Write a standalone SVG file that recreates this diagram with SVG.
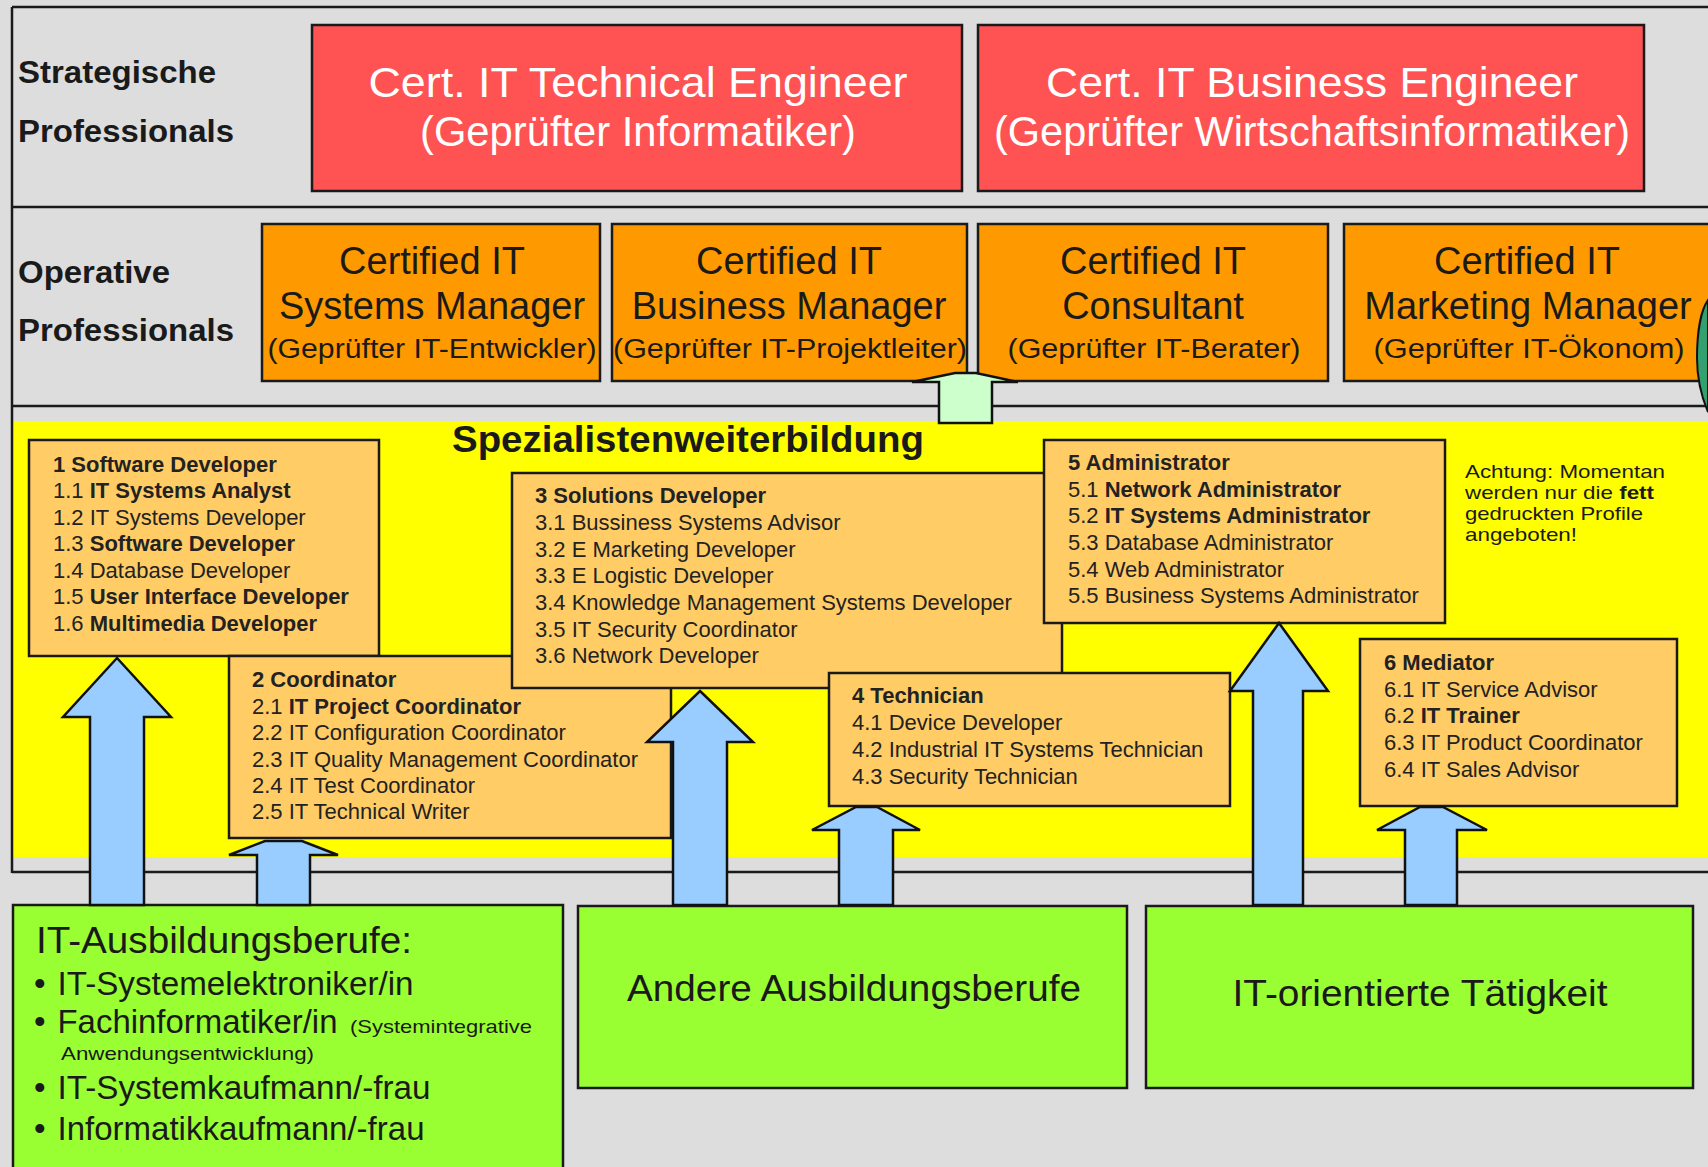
<svg xmlns="http://www.w3.org/2000/svg" width="1708" height="1167" viewBox="0 0 1708 1167">
<style>
text{font-family:"Liberation Sans",Arial,Helvetica,sans-serif;}
.band{font-size:32px;font-weight:bold;fill:#1a1a1a;}
.red{fill:#ff5353;stroke:#1a1a1a;stroke-width:2.5;}
.redt{font-size:42px;fill:#ffffff;text-anchor:middle;}
.op{fill:#ff9900;stroke:#1a1a1a;stroke-width:2.5;}
.opt{font-size:38px;fill:#1a1a1a;text-anchor:middle;}
.ops{font-size:27px;fill:#1a1a1a;text-anchor:middle;}
.sp{fill:#ffcc66;stroke:#1a1a1a;stroke-width:2.5;}
.st{font-size:22px;fill:#222222;}
.nt{font-size:18.5px;fill:#1a1a1a;}
.b{font-weight:bold;}
.gr{fill:#99ff33;stroke:#1a1a1a;stroke-width:2.5;}
.gt{font-size:33px;fill:#1a1a1a;}
.gs{font-size:19px;fill:#1a1a1a;}
.gc{font-size:37px;fill:#1a1a1a;text-anchor:middle;}
.line{stroke:#1a1a1a;stroke-width:2.5;fill:none;}
.arrow{fill:#99ccff;stroke:#111111;stroke-width:2.5;stroke-linejoin:miter;}
.arrowg{fill:#ccffcc;stroke:#111111;stroke-width:2.5;}
</style>

<!-- background -->
<rect x="0" y="0" width="1708" height="1167" fill="#dddddd"/>
<rect x="13" y="421" width="1695" height="436" fill="#ffff00"/>

<!-- frame lines -->
<g id="frame">
  <path class="line" d="M12,7 H1708 M12,7 V873 M12,207 H1708 M12,406 H1708 M12,872 H1708"/>
</g>

<!-- band labels -->
<g id="label-strategisch">
  <text class="band" x="18" y="83" textLength="198" lengthAdjust="spacingAndGlyphs">Strategische</text>
  <text class="band" x="18" y="142" textLength="216" lengthAdjust="spacingAndGlyphs">Professionals</text>
</g>
<g id="label-operativ">
  <text class="band" x="18" y="283" textLength="152" lengthAdjust="spacingAndGlyphs">Operative</text>
  <text class="band" x="18" y="341" textLength="216" lengthAdjust="spacingAndGlyphs">Professionals</text>
</g>

<!-- strategic professionals -->
<g id="cert-technical-engineer">
  <rect class="red" x="312" y="25" width="650" height="166"/>
  <text class="redt" x="638" y="97" textLength="539" lengthAdjust="spacingAndGlyphs">Cert. IT Technical Engineer</text>
  <text class="redt" x="638" y="146" textLength="436" lengthAdjust="spacingAndGlyphs">(Geprüfter Informatiker)</text>
</g>
<g id="cert-business-engineer">
  <rect class="red" x="978" y="25" width="666" height="166"/>
  <text class="redt" x="1312" y="97" textLength="532" lengthAdjust="spacingAndGlyphs">Cert. IT Business Engineer</text>
  <text class="redt" x="1312" y="146" textLength="636" lengthAdjust="spacingAndGlyphs">(Geprüfter Wirtschaftsinformatiker)</text>
</g>

<!-- operative professionals -->
<g id="systems-manager">
  <rect class="op" x="262" y="224" width="338" height="157"/>
  <text class="opt" x="432" y="274">Certified IT</text>
  <text class="opt" x="432" y="319">Systems Manager</text>
  <text class="ops" x="432" y="358" textLength="329" lengthAdjust="spacingAndGlyphs">(Geprüfter IT-Entwickler)</text>
</g>
<g id="business-manager">
  <rect class="op" x="612" y="224" width="355" height="157"/>
  <text class="opt" x="789" y="274">Certified IT</text>
  <text class="opt" x="789" y="319">Business Manager</text>
  <text class="ops" x="790" y="358" textLength="354" lengthAdjust="spacingAndGlyphs">(Geprüfter IT-Projektleiter)</text>
</g>
<g id="consultant">
  <rect class="op" x="978" y="224" width="350" height="157"/>
  <text class="opt" x="1153" y="274">Certified IT</text>
  <text class="opt" x="1153" y="319">Consultant</text>
  <text class="ops" x="1154" y="358" textLength="293" lengthAdjust="spacingAndGlyphs">(Geprüfter IT-Berater)</text>
</g>
<g id="marketing-manager">
  <rect class="op" x="1344" y="224" width="370" height="157"/>
  <text class="opt" x="1527" y="274">Certified IT</text>
  <text class="opt" x="1528" y="319">Marketing Manager</text>
  <text class="ops" x="1529" y="358" textLength="311" lengthAdjust="spacingAndGlyphs">(Geprüfter IT-Ökonom)</text>
</g>
<path d="M1708,300 C1701,310 1697,332 1697,358 C1697,382 1702,398 1708,412 Z" fill="#33a070" stroke="#111111" stroke-width="2"/>

<!-- Spezialistenweiterbildung -->
<g id="title-spezialisten">
  <text x="452" y="452" font-size="36" font-weight="bold" fill="#1a1a1a" textLength="472" lengthAdjust="spacingAndGlyphs">Spezialistenweiterbildung</text>
</g>

<g id="software-developer">
  <rect class="sp" x="29" y="440" width="350" height="216"/>
  <text class="st b" x="53" y="472">1 Software Developer</text>
  <text class="st" x="53" y="498">1.1 <tspan class="b">IT Systems Analyst</tspan></text>
  <text class="st" x="53" y="525">1.2 IT Systems Developer</text>
  <text class="st" x="53" y="551">1.3 <tspan class="b">Software Developer</tspan></text>
  <text class="st" x="53" y="578">1.4 Database Developer</text>
  <text class="st" x="53" y="604">1.5 <tspan class="b">User Interface Developer</tspan></text>
  <text class="st" x="53" y="631">1.6 <tspan class="b">Multimedia Developer</tspan></text>
</g>
<g id="coordinator">
  <rect class="sp" x="229" y="656" width="442" height="182"/>
  <text class="st b" x="252" y="687">2 Coordinator</text>
  <text class="st" x="252" y="714">2.1 <tspan class="b">IT Project Coordinator</tspan></text>
  <text class="st" x="252" y="740">2.2 IT Configuration Coordinator</text>
  <text class="st" x="252" y="767">2.3 IT Quality Management Coordinator</text>
  <text class="st" x="252" y="793">2.4 IT Test Coordinator</text>
  <text class="st" x="252" y="819">2.5 IT Technical Writer</text>
</g>
<g id="solutions-developer">
  <rect class="sp" x="512" y="473" width="550" height="215"/>
  <text class="st b" x="535" y="503">3 Solutions Developer</text>
  <text class="st" x="535" y="530">3.1 Bussiness Systems Advisor</text>
  <text class="st" x="535" y="557">3.2 E Marketing Developer</text>
  <text class="st" x="535" y="583">3.3 E Logistic Developer</text>
  <text class="st" x="535" y="610">3.4 Knowledge Management Systems Developer</text>
  <text class="st" x="535" y="637">3.5 IT Security Coordinator</text>
  <text class="st" x="535" y="663">3.6 Network Developer</text>
</g>
<g id="technician">
  <rect class="sp" x="829" y="673" width="401" height="133"/>
  <text class="st b" x="852" y="703">4 Technician</text>
  <text class="st" x="852" y="730">4.1 Device Developer</text>
  <text class="st" x="852" y="757">4.2 Industrial IT Systems Technician</text>
  <text class="st" x="852" y="784">4.3 Security Technician</text>
</g>
<g id="administrator">
  <rect class="sp" x="1044" y="440" width="401" height="183"/>
  <text class="st b" x="1068" y="470">5 Administrator</text>
  <text class="st" x="1068" y="497">5.1 <tspan class="b">Network Administrator</tspan></text>
  <text class="st" x="1068" y="523">5.2 <tspan class="b">IT Systems Administrator</tspan></text>
  <text class="st" x="1068" y="550">5.3 Database Administrator</text>
  <text class="st" x="1068" y="577">5.4 Web Administrator</text>
  <text class="st" x="1068" y="603">5.5 Business Systems Administrator</text>
</g>
<g id="mediator">
  <rect class="sp" x="1360" y="639" width="317" height="167"/>
  <text class="st b" x="1384" y="670">6 Mediator</text>
  <text class="st" x="1384" y="697">6.1 IT Service Advisor</text>
  <text class="st" x="1384" y="723">6.2 <tspan class="b">IT Trainer</tspan></text>
  <text class="st" x="1384" y="750">6.3 IT Product Coordinator</text>
  <text class="st" x="1384" y="777">6.4 IT Sales Advisor</text>
</g>
<g id="note">
  <text class="nt" x="1465" y="478" textLength="200" lengthAdjust="spacingAndGlyphs">Achtung: Momentan</text>
  <text class="nt" x="1465" y="499" textLength="189" lengthAdjust="spacingAndGlyphs">werden nur die <tspan class="b">fett</tspan></text>
  <text class="nt" x="1465" y="520" textLength="178" lengthAdjust="spacingAndGlyphs">gedruckten Profile</text>
  <text class="nt" x="1465" y="541" textLength="112" lengthAdjust="spacingAndGlyphs">angeboten!</text>
</g>

<!-- entry levels -->
<g id="it-ausbildungsberufe">
  <rect class="gr" x="13" y="905" width="550" height="280"/>
  <text x="36" y="953" font-size="37" fill="#1a1a1a" textLength="376" lengthAdjust="spacingAndGlyphs">IT-Ausbildungsberufe:</text>
  <text class="gt" x="34" y="995">•</text>
  <text class="gt" x="57.5" y="995" textLength="356" lengthAdjust="spacingAndGlyphs">IT-Systemelektroniker/in</text>
  <text class="gt" x="34" y="1033">•</text>
  <text class="gt" x="57.5" y="1033" textLength="280" lengthAdjust="spacingAndGlyphs">Fachinformatiker/in</text>
  <text class="gs" x="350" y="1033" textLength="182" lengthAdjust="spacingAndGlyphs">(Systemintegrative</text>
  <text class="gs" x="61" y="1060" textLength="253" lengthAdjust="spacingAndGlyphs">Anwendungsentwicklung)</text>
  <text class="gt" x="34" y="1099">•</text>
  <text class="gt" x="57.5" y="1099" textLength="373" lengthAdjust="spacingAndGlyphs">IT-Systemkaufmann/-frau</text>
  <text class="gt" x="34" y="1140">•</text>
  <text class="gt" x="57.5" y="1140" textLength="367" lengthAdjust="spacingAndGlyphs">Informatikkaufmann/-frau</text>
</g>
<g id="andere-ausbildungsberufe">
  <rect class="gr" x="578" y="906" width="549" height="182"/>
  <text class="gc" x="854" y="1001" textLength="454" lengthAdjust="spacingAndGlyphs">Andere Ausbildungsberufe</text>
</g>
<g id="it-taetigkeit">
  <rect class="gr" x="1146" y="906" width="547" height="182"/>
  <text class="gc" x="1420" y="1006" textLength="375" lengthAdjust="spacingAndGlyphs">IT-orientierte Tätigkeit</text>
</g>

<!-- connectors -->
<g id="connectors">
  <polygon class="arrowg" points="955,373 976,373 1018,382 992,382 992,423 939,423 939,382 912,382"/>
  <polygon class="arrow" points="117,658 171,717 144,717 144,905 90,905 90,717 63,717"/>
  <polygon class="arrow" points="265,841 302,841 338,855 310,855 310,905 257,905 257,855 229,855"/>
  <polygon class="arrow" points="700,691 753,742 727,742 727,905 673,905 673,742 647,742"/>
  <polygon class="arrow" points="856,807 877,807 920,830 893,830 893,905 839,905 839,830 812,830"/>
  <polygon class="arrow" points="1279,623 1328,691 1303,691 1303,905 1253,905 1253,691 1230,691"/>
  <polygon class="arrow" points="1420,807 1443,807 1487,830 1457,830 1457,905 1405,905 1405,830 1377,830"/>
</g>
</svg>
